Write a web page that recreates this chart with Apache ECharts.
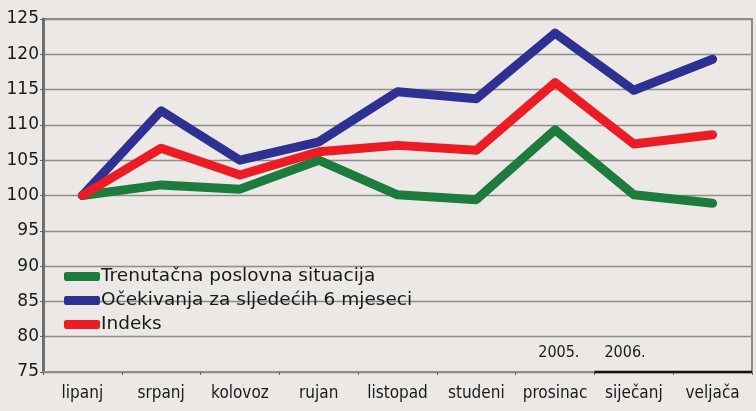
<!DOCTYPE html>
<html><head><meta charset="utf-8">
<script src="https://cdn.jsdelivr.net/npm/echarts@6/dist/echarts.min.js"></script>
<style>html,body{margin:0;padding:0;background:#ebe8e5;}#c{width:756px;height:411px;}</style>
</head><body><div id="c"></div>
<script>
const categories = ['lipanj','srpanj','kolovoz','rujan','listopad','studeni','prosinac','siječanj','veljača'];
const trenutacna = [100, 101.5, 100.9, 105.0, 100.1, 99.4, 109.3, 100.1, 98.9];
const ocekivanja = [100, 112.0, 105.0, 107.6, 114.7, 113.7, 123.0, 114.9, 119.3];
const indeks = [100, 106.7, 102.9, 106.2, 107.1, 106.4, 116.0, 107.3, 108.6];
const yearLabels = ['2005.', '2006.'];

const chart = echarts.init(document.getElementById('c'));
const cond = '"DejaVu Sans Condensed", "Liberation Sans Narrow", "DejaVu Sans", sans-serif';
chart.setOption({
  backgroundColor: '#ebe8e5',
  animation: false,
  grid: {left: 43, right: 4, top: 19, bottom: 39, show: true, borderColor: '#8c8c8c', borderWidth: 2, backgroundColor: 'transparent'},
  legend: {
    orient: 'vertical', left: 59, top: 262, itemGap: 5, itemWidth: 36, itemHeight: 9,
    icon: 'roundRect',
    textStyle: {fontFamily: '"DejaVu Sans", sans-serif', fontSize: 18.5, color: '#1a1a1a', padding: [0,0,0,-4]},
    data: ['Trenutačna poslovna situacija','Očekivanja za sljedećih 6 mjeseci','Indeks']
  },
  xAxis: {
    type: 'category', data: categories, boundaryGap: true,
    axisLine: {lineStyle: {color: '#8c8c8c', width: 2}},
    axisTick: {show: true, interval: 0, length: 3, lineStyle: {color: '#666'}},
    axisLabel: {interval: 0, fontFamily: cond, fontSize: 17, color: '#1a1a1a', margin: 13}
  },
  yAxis: {
    type: 'value', min: 75, max: 125, interval: 5,
    axisLine: {show: true, lineStyle: {color: '#6e6e6e', width: 3}},
    axisTick: {show: true, length: 3, lineStyle: {color: '#666'}},
    splitLine: {lineStyle: {color: '#8c8c8c', width: 1.3}},
    axisLabel: {fontFamily: '"DejaVu Sans", sans-serif', fontSize: 17, color: '#1a1a1a', margin: 4}
  },
  series: [
    {name: 'Trenutačna poslovna situacija', type: 'line', data: trenutacna, symbol: 'none', color: '#1e7b3e', lineStyle: {width: 9, cap: 'round', join: 'round'}, z: 3},
    {name: 'Očekivanja za sljedećih 6 mjeseci', type: 'line', data: ocekivanja, symbol: 'none', color: '#2e3192', lineStyle: {width: 9, cap: 'round', join: 'round'}, z: 3},
    {name: 'Indeks', type: 'line', data: indeks, symbol: 'none', color: '#ec1c24', lineStyle: {width: 9, cap: 'round', join: 'round'}, z: 4}
  ]
});

const c6 = chart.convertToPixel({xAxisIndex: 0}, categories[6]);
const c7 = chart.convertToPixel({xAxisIndex: 0}, categories[7]);
const boundary = (c6 + c7) / 2;
const yBase = chart.convertToPixel({yAxisIndex: 0}, 75);
const rightEdge = 756 - 4;
chart.setOption({
  graphic: [
    {type: 'line', shape: {x1: boundary, y1: yBase, x2: rightEdge, y2: yBase}, style: {stroke: '#111', lineWidth: 2.5}, z: 100},
    {type: 'text', x: boundary - 15, y: yBase - 19, style: {text: yearLabels[0], fill: '#1a1a1a', font: '16px ' + cond, textAlign: 'right', textVerticalAlign: 'middle'}, z: 100},
    {type: 'text', x: boundary + 10, y: yBase - 19, style: {text: yearLabels[1], fill: '#1a1a1a', font: '16px ' + cond, textAlign: 'left', textVerticalAlign: 'middle'}, z: 100}
  ]
});
</script></body></html>
